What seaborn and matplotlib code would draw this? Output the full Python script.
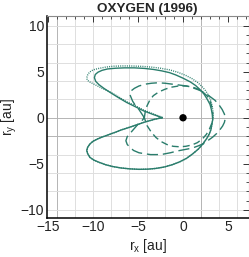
import numpy as np
import pandas as pd
import matplotlib
matplotlib.use("Agg")
import matplotlib.pyplot as plt
import seaborn as sns
from matplotlib.ticker import MultipleLocator

# trajectory points (au)
solid_x = [-2.3, -3.3, -4.4, -5.3, -6.26, -7.2, -8.1, -8.8, -9.35, -9.7, -9.85, -9.75, -9.45, -9.0,
           -8.4, -7.5, -6.5, -5.4, -4.3, -3.3, -2.4, -1.5, -0.8, 0.0, 0.8, 1.4, 1.9, 2.35, 2.7, 3.0,
           3.15, 3.25, 3.3, 3.2, 3.1, 2.9, 2.6, 2.2, 1.7, 1.1, 0.4, -0.4, -1.2, -2.1, -3.0, -3.9,
           -4.9, -5.9, -6.9, -7.8, -8.6, -9.3, -9.9, -10.35, -10.6, -10.7, -10.6, -10.35, -10.0,
           -9.5, -9.0, -8.3, -7.6, -6.8, -6.0, -5.1, -4.2, -3.1, -2.3]
solid_y = [0.0, 0.35, 0.76, 1.2, 1.66, 2.2, 2.75, 3.2, 3.6, 3.95, 4.35, 4.7, 4.95, 5.15,
           5.3, 5.38, 5.42, 5.42, 5.36, 5.25, 5.1, 4.9, 4.65, 4.3, 3.9, 3.5, 3.05, 2.55, 2.0, 1.45,
           0.9, 0.35, -0.2, -0.75, -1.3, -1.8, -2.3, -2.85, -3.4, -3.9, -4.4, -4.8, -5.1, -5.35,
           -5.5, -5.58, -5.6, -5.55, -5.45, -5.3, -5.1, -4.85, -4.6, -4.3, -3.9, -3.55, -3.2, -2.85,
           -2.55, -2.3, -2.1, -1.85, -1.6, -1.3, -1.05, -0.75, -0.45, -0.15, 0.0]

dotted_x = [-2.3, -3.3, -4.4, -5.3, -6.3, -7.2, -8.1, -8.9, -9.5, -10.0, -10.4, -10.65, -10.7,
            -10.6, -10.4, -10.0, -9.4, -8.6, -7.7, -6.6, -5.6, -4.5, -3.5, -2.5, -1.5, -0.6, 0.3,
            1.0, 1.6, 2.1, 2.5, 2.85, 3.1, 3.25, 3.35, 3.3, 3.1, 2.9, 2.6, 2.2, 1.7, 1.1, 0.4, -0.4,
            -1.2, -2.1, -3.0, -3.9, -4.9, -5.9, -6.9, -7.8, -8.6, -9.3, -9.9, -10.35, -10.6, -10.7,
            -10.6, -10.35, -10.0, -9.5, -9.0, -8.3, -7.6, -6.8, -6.0, -5.1, -4.2, -3.1, -2.3]
dotted_y = [0.05, 0.42, 0.85, 1.3, 1.75, 2.3, 2.8, 3.15, 3.45, 3.7, 3.9, 4.1, 4.35,
            4.65, 4.95, 5.2, 5.35, 5.5, 5.6, 5.63, 5.62, 5.58, 5.5, 5.38, 5.2, 4.95, 4.6,
            4.25, 3.85, 3.4, 2.95, 2.4, 1.85, 1.2, 0.5, -0.2, -1.3, -1.8, -2.3, -2.85, -3.4, -3.9,
            -4.4, -4.8, -5.1, -5.35, -5.5, -5.58, -5.6, -5.55, -5.45, -5.3, -5.1, -4.85, -4.6,
            -4.3, -3.9, -3.55, -3.2, -2.85, -2.55, -2.3, -2.1, -1.85, -1.6, -1.3, -1.05, -0.75,
            -0.45, -0.15, 0.05]

inner_x = [-4.3, -4.2, -4.0, -3.7, -3.3, -2.7, -2.0, -1.3, -0.5, 0.3, 1.0, 1.7, 2.2, 2.7, 3.0, 3.2,
           3.3, 3.3, 3.2, 2.95, 2.6, 2.15, 1.6, 1.0, 0.3, -0.4, -1.1, -1.8, -2.4, -3.0, -3.5, -4.0,
           -4.3]
inner_y = [0.0, 0.65, 1.3, 1.9, 2.4, 2.8, 3.1, 3.32, 3.45, 3.45, 3.35, 3.1, 2.8, 2.35, 1.8, 1.2,
           0.6, 0.0, -0.6, -1.2, -1.8, -2.3, -2.7, -2.95, -3.1, -3.15, -3.1, -2.9, -2.6, -2.15,
           -1.6, -0.85, 0.0]

outer_x = [-4.3, -4.9, -5.3, -5.6, -5.9, -5.8, -5.4, -4.9, -4.2, -3.5, -2.8, -2.0, -1.2, -0.4, 0.4,
           1.1, 1.8, 2.45, 3.0, 3.55, 4.0, 4.35, 4.6, 4.7, 4.6, 4.4, 4.1, 3.75, 3.3, 2.8, 2.3,
           1.7, 1.0, 0.2, -0.6, -1.4, -2.2, -2.9, -3.6, -4.3, -4.9, -5.5, -5.9, -6.2, -6.35,
           -6.2, -5.8, -5.4, -5.0, -4.6, -4.3]
outer_y = [0.0, 0.9, 1.35, 1.8, 2.5, 2.9, 3.2, 3.45, 3.65, 3.75, 3.8, 3.75, 3.65, 3.55, 3.45,
           3.25, 3.0, 2.7, 2.3, 1.9, 1.4, 0.9, 0.4, -0.05, -0.5, -0.9, -1.3, -1.7, -2.1, -2.45,
           -2.8, -3.05, -3.3, -3.45, -3.6, -3.8, -3.95, -4.0, -4.0, -3.9, -3.8, -3.55, -3.2, -2.9,
           -2.5, -2.05, -1.6, -1.15, -0.7, -0.35, 0.0]

sun_x = [0.0]
sun_y = [0.0]

color = "#2a7d6c"

sns.set_theme(style="white")
plt.rcParams["font.family"] = ["Liberation Sans", "DejaVu Sans"]

fig = plt.figure(figsize=(2.49, 2.57), dpi=100)
ax = fig.add_axes([0.1876, 0.153, 0.8112, 0.7847])

# background grid
for gx in range(-14, 8, 2):
    ax.axvline(gx, color="#b4b4b4" if gx in (-14, 2) else "#dedede", lw=0.7, zorder=0)
for gy in range(-10, 12, 2):
    ax.axhline(gy, color="#b4b4b4" if gy in (0, -2) else "#dedede", lw=0.7, zorder=0)

curves = [
    (solid_x, solid_y, None),
    (dotted_x, dotted_y, (0.7, 0.9)),
    (inner_x, inner_y, (5, 3)),
    (outer_x, outer_y, (8, 3.5)),
]
for xs, ys, dash in curves:
    df = pd.DataFrame({"x": xs, "y": ys})
    sns.lineplot(data=df, x="x", y="y", sort=False, estimator=None, ax=ax,
                 color=color, lw=1.0, zorder=3)
    if dash is not None:
        ax.lines[-1].set_dashes(dash)

sns.scatterplot(x=sun_x, y=sun_y, ax=ax, color="black", s=28, edgecolor="none", zorder=4)

ax.set_xlim(-15.15, 7.3)
ax.set_ylim(-10.85, 11.05)
ax.xaxis.set_major_locator(MultipleLocator(5))
ax.yaxis.set_major_locator(MultipleLocator(5))
ax.xaxis.set_minor_locator(MultipleLocator(1))
ax.yaxis.set_minor_locator(MultipleLocator(1))
ax.tick_params(which="both", direction="in", top=True, right=True, colors="#333333",
               labelcolor="#222222", labelsize=10, pad=2)
ax.tick_params(which="major", length=4, width=0.7)
ax.tick_params(which="minor", length=2, width=0.6)

for side in ("left", "bottom"):
    ax.spines[side].set_color("black")
    ax.spines[side].set_linewidth(1.1)
for side in ("top", "right"):
    ax.spines[side].set_color("#8a8a8a")
    ax.spines[side].set_linewidth(0.8)

ax.set_xlabel(r"r$_{\mathregular{x}}$ [au]", fontsize=10, color="#222222", labelpad=2)
ax.set_ylabel(r"r$_{\mathregular{y}}$ [au]", fontsize=10, color="#222222", labelpad=1)
ax.set_title("OXYGEN (1996)", fontsize=9.7, fontweight="bold", pad=3)

fig.savefig("out.png", dpi=100)
